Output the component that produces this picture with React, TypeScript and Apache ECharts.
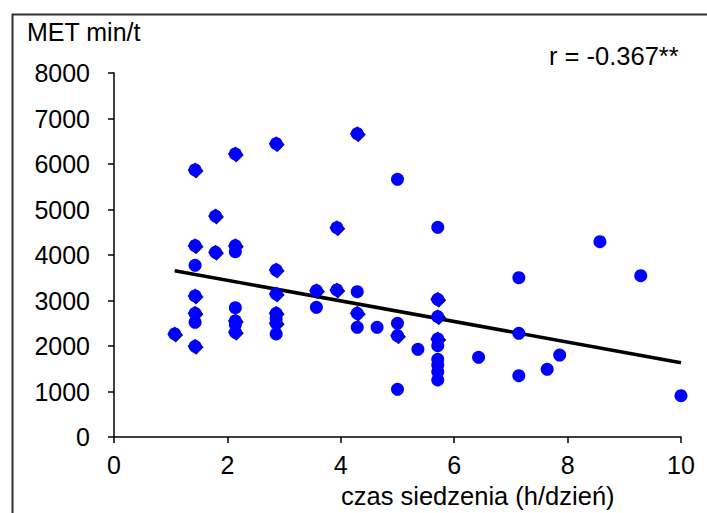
import React, { useEffect, useRef } from "react";
import * as echarts from "echarts";

// Points drawn with a diamond marker under the circle
const diamondX = [1.07, 1.43, 1.43, 1.43, 1.43, 1.43, 1.79, 1.79, 2.14, 2.14, 2.14, 2.14, 2.86, 2.86, 2.86, 2.86, 2.86, 3.57, 3.93, 3.93, 4.29, 4.29, 5.0, 5.71, 5.71, 5.71];
const diamondY = [2264, 5870, 4205, 3099, 2718, 1993, 4857, 4060, 6220, 4205, 2550, 2300, 6446, 3670, 3143, 2718, 2498, 3216, 4600, 3231, 6666, 2718, 2227, 3026, 2645, 2154];

// Points drawn as circles only
const circleX = [1.43, 1.43, 2.14, 2.14, 2.14, 2.86, 2.86, 3.57, 4.29, 4.29, 4.64, 5.0, 5.0, 5.0, 5.36, 5.71, 5.71, 5.71, 5.71, 5.71, 5.71, 6.43, 7.14, 7.14, 7.14, 7.64, 7.86, 8.57, 9.29, 10.0];
const circleY = [3773, 2520, 4073, 2842, 2470, 2600, 2264, 2850, 3194, 2410, 2410, 5663, 2498, 1048, 1927, 4608, 2007, 1708, 1582, 1436, 1253, 1752, 3502, 2278, 1348, 1487, 1802, 4293, 3546, 908];

// Regression line end points
const trendX = [1.07, 10.0];
const trendY = [3655, 1633];

const xTicks = [0, 2, 4, 6, 8, 10];
const yTicks = [0, 1000, 2000, 3000, 4000, 5000, 6000, 7000, 8000];

const yName = "MET min/t";
const xName = "czas siedzenia (h/dzień)";
const rLabel = "r = -0.367**";

const FONT = "'Liberation Sans', Arial, sans-serif";

export default function App() {
  const ref = useRef<HTMLDivElement>(null);
  useEffect(() => {
    document.body.style.margin = "0";
    if (!ref.current) return;
    const chart = echarts.init(ref.current, undefined, { renderer: "svg" });
    const zip = (xs: number[], ys: number[]) => xs.map((x, i) => [x, ys[i]]);
    chart.setOption({
      animation: false,
      backgroundColor: "#ffffff",
      grid: { left: 114, right: 26, top: 73, bottom: 76, containLabel: false },
      xAxis: {
        type: "value",
        min: xTicks[0],
        max: xTicks[xTicks.length - 1],
        interval: 2,
        axisLine: { show: true, onZero: false, lineStyle: { color: "#000", width: 1.5 } },
        axisTick: { show: true, inside: false, length: 6, lineStyle: { color: "#000", width: 1.5 } },
        splitLine: { show: false },
        axisLabel: { color: "#000", fontSize: 25, fontFamily: FONT, margin: 15, formatter: (v: number) => String(v) },
      },
      yAxis: {
        type: "value",
        min: yTicks[0],
        max: yTicks[yTicks.length - 1],
        interval: 1000,
        axisLine: { show: true, onZero: false, lineStyle: { color: "#000", width: 1.5 } },
        axisTick: { show: true, inside: false, length: 6, lineStyle: { color: "#000", width: 1.5 } },
        splitLine: { show: false },
        axisLabel: { color: "#000", fontSize: 25, fontFamily: FONT, margin: 24, formatter: (v: number) => String(v) },
      },
      graphic: [
        {
          type: "rect",
          shape: { x: 12.5, y: 14.5, width: 760, height: 560 },
          style: { fill: "none", stroke: "#333", lineWidth: 2 },
          silent: true,
        },
        {
          type: "text",
          left: 27,
          top: 19,
          style: { text: yName, fontSize: 25, fontFamily: FONT, fill: "#000" },
        },
        {
          type: "text",
          left: 549,
          top: 43,
          style: { text: rLabel, fontSize: 25.5, fontFamily: FONT, fill: "#000" },
        },
        {
          type: "text",
          left: 341,
          top: 483,
          style: { text: xName, fontSize: 25.5, fontFamily: FONT, fill: "#000" },
        },
      ],
      series: [
        {
          type: "line",
          data: zip(trendX, trendY),
          symbol: "none",
          lineStyle: { color: "#000", width: 3.5 },
          z: 1,
        },
        {
          type: "scatter",
          data: zip(diamondX, diamondY),
          symbol: "diamond",
          symbolSize: 15,
          itemStyle: { color: "#10104a", opacity: 1 },
          symbolOffset: [1, 1],
          z: 2,
        },
        {
          type: "scatter",
          data: zip(diamondX, diamondY),
          symbol: "diamond",
          symbolSize: 15,
          itemStyle: { color: "#0000ff", opacity: 1 },
          z: 3,
        },
        {
          type: "scatter",
          data: zip(diamondX, diamondY),
          symbol: "circle",
          symbolSize: 13,
          itemStyle: { color: "#0000ff", opacity: 1 },
          z: 4,
        },
        {
          type: "scatter",
          data: zip(circleX, circleY),
          symbol: "circle",
          symbolSize: 13,
          itemStyle: { color: "#0000ff", opacity: 1 },
          z: 4,
        },
      ],
    });
    return () => chart.dispose();
  }, []);
  return <div ref={ref} style={{ width: 707, height: 513 }} />;
}
